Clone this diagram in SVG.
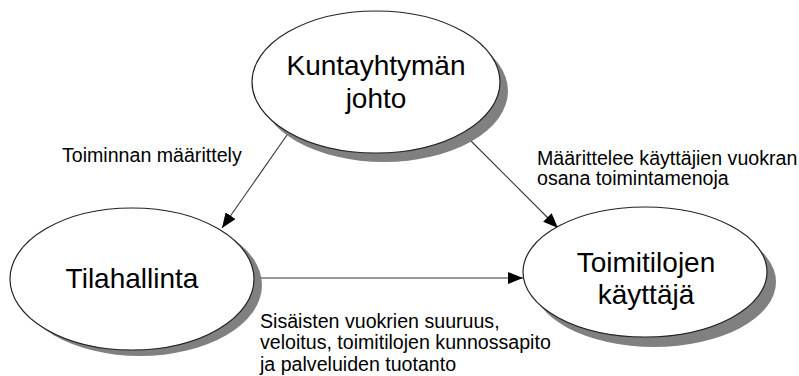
<svg xmlns="http://www.w3.org/2000/svg" width="799" height="376" viewBox="0 0 799 376">
<defs>
<marker id="arr" markerUnits="userSpaceOnUse" markerWidth="16" markerHeight="12" refX="15" refY="6" orient="auto">
<path d="M0,0 L15,6 L0,12 Z" fill="#000"/>
</marker>
<style>
.shadow{fill:#808080;stroke:none}
.node{fill:#fff;stroke:#222;stroke-width:1.2}
.big{font-family:"Liberation Sans",Arial,sans-serif;font-size:28px;fill:#000;text-anchor:middle}
.lbl{font-family:"Liberation Sans",Arial,sans-serif;font-size:19.6px;fill:#000}
.conn{stroke:#333;stroke-width:1.1;fill:none;marker-end:url(#arr)}
</style>
</defs>
<rect width="799" height="376" fill="#fff"/>
<g id="connectors">
<line class="conn" x1="287" y1="135" x2="222" y2="228"/>
<line class="conn" x1="463" y1="133" x2="558" y2="228"/>
<line class="conn" x1="254" y1="278" x2="523" y2="278"/>
</g>
<g id="node-johto">
<ellipse class="shadow" cx="384" cy="91" rx="124" ry="71"/>
<ellipse class="node" cx="376" cy="82" rx="124" ry="71"/>
<text class="big" x="376" y="75">Kuntayhtymän</text>
<text class="big" x="376" y="108">johto</text>
</g>
<g id="node-tilahallinta">
<ellipse class="shadow" cx="140" cy="285" rx="122" ry="71"/>
<ellipse class="node" cx="132" cy="279" rx="122" ry="71"/>
<text class="big" x="132" y="288">Tilahallinta</text>
</g>
<g id="node-kayttaja">
<ellipse class="shadow" cx="654" cy="282" rx="122" ry="65"/>
<ellipse class="node" cx="645" cy="272" rx="122" ry="65"/>
<text class="big" x="646" y="272">Toimitilojen</text>
<text class="big" x="646" y="304">käyttäjä</text>
</g>
<g id="labels">
<text class="lbl" x="62" y="162">Toiminnan määrittely</text>
<text class="lbl" x="537" y="165">Määrittelee käyttäjien vuokran</text>
<text class="lbl" x="537" y="185">osana toimintamenoja</text>
<text class="lbl" x="260" y="328">Sisäisten vuokrien suuruus,</text>
<text class="lbl" x="260" y="349">veloitus, toimitilojen kunnossapito</text>
<text class="lbl" x="260" y="371">ja palveluiden tuotanto</text>
</g>
</svg>
